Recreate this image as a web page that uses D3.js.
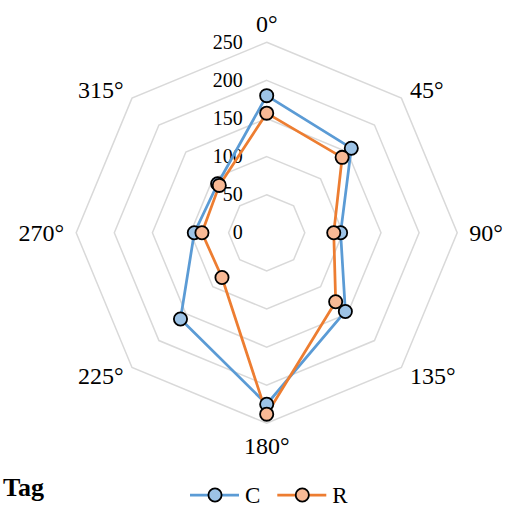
<!DOCTYPE html>
<html>
<head>
<meta charset="utf-8">
<script src="https://cdn.jsdelivr.net/npm/d3@7"></script>
<style>
  body { margin: 0; background: #fff; }
</style>
</head>
<body>
<div id="chart-area"></div>
<script>
// data
const angles = ["0°", "45°", "90°", "135°", "180°", "225°", "270°", "315°"]
const valuesC = [180, 157, 97, 146, 225, 160, 95, 91]
const valuesR = [157, 140, 88, 128, 238, 83, 85, 88]
const ticks = [0, 50, 100, 150, 200, 250]
const seriesNames = ["C", "R"]

const WIDTH = 516
const HEIGHT = 508
const CX = 266.7, CY = 232.8
const RADIUS = 190.5
const FONT = "Liberation Serif"

const svg = d3.select("#chart-area").append("svg")
	.attr("width", WIDTH)
	.attr("height", HEIGHT)
	.attr("font-family", FONT)

const g = svg.append("g")
	.attr("transform", `translate(${CX}, ${CY})`)

// scales
const r = d3.scaleLinear().domain([0, 250]).range([0, RADIUS])
const a = d3.scalePoint().domain(angles).range([0, 2 * Math.PI * 7 / 8])

const px = (k, v) => r(v) * Math.sin(a(k))
const py = (k, v) => -r(v) * Math.cos(a(k))

// grid rings
ticks.slice(1).forEach(t => {
	g.append("path")
		.attr("fill", "none")
		.attr("stroke", "#d9d9d9")
		.attr("stroke-width", 1.5)
		.attr("d", d3.line()(angles.map(k => [px(k, t), py(k, t)])) + "Z")
})

// tick labels
g.selectAll(".tick-label")
	.data(ticks)
	.enter().append("text")
	.attr("class", "tick-label")
	.attr("x", -24)
	.attr("y", d => -r(d))
	.attr("dy", "0.33em")
	.attr("text-anchor", "end")
	.attr("font-family", FONT)
	.attr("font-size", "20px")
	.attr("fill", "#000")
	.text(d => d)

// angle labels
const LR = RADIUS + 12
g.selectAll(".axis-label")
	.data(angles)
	.enter().append("text")
	.attr("class", "axis-label")
	.attr("x", d => LR * Math.sin(a(d)))
	.attr("y", d => {
		const c = Math.cos(a(d))
		if (c > 0.99) return -209
		if (c < -0.99) return 213
		return -LR * c
	})
	.attr("dy", "0.33em")
	.attr("text-anchor", d => {
		const s = Math.sin(a(d))
		return s > 0.01 ? "start" : s < -0.01 ? "end" : "middle"
	})
	.attr("font-family", FONT)
	.attr("font-size", "24px")
	.attr("fill", "#000")
	.text(d => d)

// series
const series = [
	{ name: seriesNames[0], values: valuesC, line: "#5b9bd5", fill: "#9dc3e6" },
	{ name: seriesNames[1], values: valuesR, line: "#ed7d31", fill: "#f8b995" }
]

series.forEach(s => {
	const pts = angles.map((k, i) => [px(k, s.values[i]), py(k, s.values[i])])
	g.append("path")
		.attr("fill", "none")
		.attr("stroke", s.line)
		.attr("stroke-width", 2.75)
		.attr("stroke-linejoin", "round")
		.attr("d", d3.line()(pts) + "Z")
})
series.forEach(s => {
	const pts = angles.map((k, i) => [px(k, s.values[i]), py(k, s.values[i])])
	g.selectAll(null)
		.data(pts)
		.enter().append("circle")
		.attr("cx", d => d[0])
		.attr("cy", d => d[1])
		.attr("r", 6.6)
		.attr("fill", s.fill)
		.attr("stroke", "#000")
		.attr("stroke-width", 1.8)
})

// legend
svg.append("text")
	.attr("x", 3)
	.attr("y", 496)
	.attr("font-family", FONT)
	.attr("font-size", "26px")
	.attr("font-weight", "bold")
	.text("Tag")

const legend = svg.append("g").attr("transform", "translate(190, 495)")
series.forEach((s, i) => {
	const lg = legend.append("g").attr("transform", `translate(${i * 87.3}, 0)`)
	lg.append("line")
		.attr("x1", 0).attr("x2", 49)
		.attr("stroke", s.line)
		.attr("stroke-width", 2.75)
	lg.append("circle")
		.attr("cx", 25)
		.attr("r", 6.6)
		.attr("fill", s.fill)
		.attr("stroke", "#000")
		.attr("stroke-width", 1.8)
	lg.append("text")
		.attr("x", 55)
		.attr("dy", "0.33em")
		.attr("font-family", FONT)
		.attr("font-size", "23px")
		.text(s.name)
})
</script>
</body>
</html>
